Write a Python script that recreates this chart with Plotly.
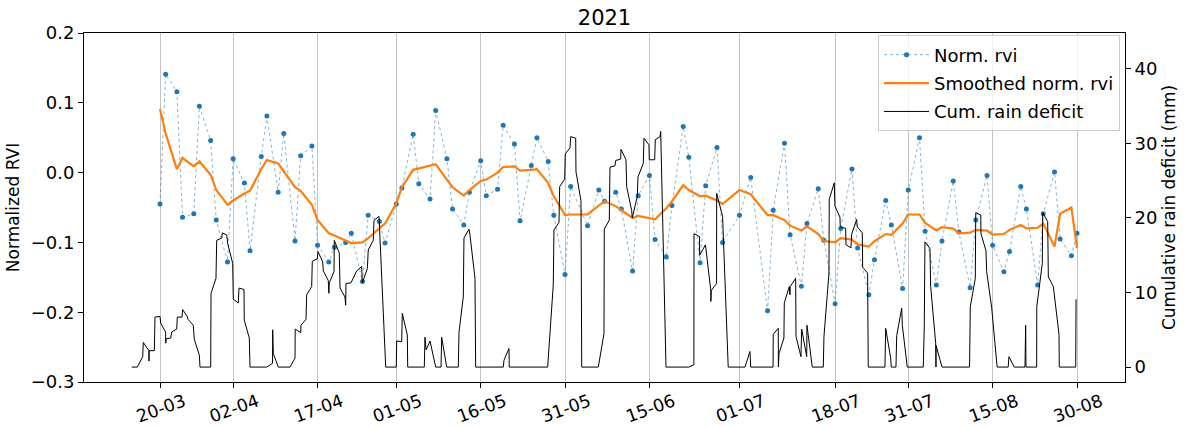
import pandas as pd
import plotly.graph_objects as go

START = pd.Timestamp("2021-03-20")

# Norm. rvi observations (days after 20-03-2021) and values
rvi_day = [0, 1, 3, 4, 6, 7, 9, 10, 12, 13, 15, 16, 18, 19, 21, 22, 24, 25, 27, 28,
           30, 31, 33, 34, 36, 37, 39, 40, 42, 43, 45, 46, 48, 49, 51, 52, 54, 55, 57, 58,
           60, 61, 63, 64, 66, 67, 69, 70, 72, 73, 76, 78, 79, 81, 82, 84, 85, 87, 88, 90,
           91, 93, 94, 96, 97, 99, 100, 103, 105, 108, 109, 111, 112, 114, 115, 117, 118, 120, 121, 123,
           124, 126, 127, 129, 130, 132, 133, 135, 136, 138, 139, 141, 142, 144, 145, 147, 148, 150, 151, 153,
           154, 156, 157, 159, 160, 162, 163]
rvi_val = [-0.045, 0.141, 0.116, -0.064, -0.059, 0.095, 0.046, -0.068, -0.128, 0.020,
           -0.015, -0.112, 0.023, 0.081, -0.028, 0.056, -0.098, 0.024, 0.038, -0.104,
           -0.128, -0.107, -0.100, -0.087, -0.156, -0.061, -0.070, -0.101, -0.045, -0.022,
           0.055, -0.016, -0.038, 0.089, 0.020, -0.052, -0.075, -0.028, 0.017, -0.033,
           -0.024, 0.068, 0.041, -0.069, 0.010, 0.050, 0.016, -0.061, -0.146, -0.020,
           -0.076, -0.025, -0.041, -0.028, -0.052, -0.141, -0.033, -0.004, -0.096, -0.121,
           -0.047, 0.066, 0.022, -0.129, -0.019, 0.036, -0.100, -0.061, -0.007, -0.198,
           -0.054, 0.042, -0.089, -0.163, -0.073, -0.023, -0.097, -0.188, -0.080, 0.005,
           -0.108, -0.175, -0.125, -0.040, -0.075, -0.166, -0.025, 0.050, -0.084, -0.161,
           -0.098, -0.012, -0.085, -0.165, -0.068, -0.004, -0.104, -0.142, -0.113, -0.020,
           -0.052, -0.161, -0.059, 0.001, -0.095, -0.119, -0.087]
smooth_val = [0.091, 0.056, 0.005, 0.021, 0.009, 0.016, -0.003, -0.025, -0.046, -0.040,
              -0.030, -0.026, 0.005, 0.018, 0.013, 0.002, -0.021, -0.026, -0.046, -0.068,
              -0.087, -0.090, -0.098, -0.101, -0.100, -0.094, -0.080, -0.073, -0.044, -0.021,
              0.004, 0.006, 0.009, 0.012, -0.010, -0.021, -0.033, -0.025, -0.012, -0.010,
              0.000, 0.008, 0.009, 0.003, 0.004, 0.005, -0.015, -0.034, -0.061, -0.060,
              -0.060, -0.048, -0.041, -0.048, -0.054, -0.065, -0.062, -0.065, -0.067, -0.051,
              -0.041, -0.018, -0.025, -0.034, -0.033, -0.040, -0.045, -0.025, -0.031, -0.061,
              -0.061, -0.068, -0.076, -0.083, -0.077, -0.088, -0.098, -0.100, -0.094, -0.096,
              -0.103, -0.106, -0.098, -0.088, -0.089, -0.073, -0.060, -0.060, -0.072, -0.083,
              -0.078, -0.080, -0.087, -0.086, -0.082, -0.083, -0.089, -0.088, -0.082, -0.075,
              -0.080, -0.079, -0.073, -0.106, -0.059, -0.050, -0.108]

# Cumulative rain deficit (days after 20-03-2021, mm)
rain_day = [-5.03, -4.03, -3.07, -2.97, -1.97, -1.96, -1.93, -1.01, -0.89, 0.0,
            0.12, 1.0, 1.01, 1.12, 1.90, 2.08, 2.97, 3.08, 3.91, 4.03,
            4.85, 4.98, 5.92, 6.10, 6.99, 7.11, 9.01, 9.07, 9.95, 10.08,
            10.97, 11.07, 11.86, 12.03, 12.92, 13.03, 13.92, 14.04, 14.93, 14.98,
            15.87, 16.0, 18.97, 20.0, 20.03, 20.14, 21.03, 23.1, 24.0, 24.03,
            25.01, 25.06, 25.95, 26.07, 26.96, 27.07, 27.96, 28.08, 28.92, 29.03,
            29.91, 30.02, 30.09, 30.93, 30.98, 31.87, 32.0, 32.88, 33.0, 33.06,
            33.95, 34.96, 35.85, 35.96, 36.85, 37.02, 37.91, 38.04, 38.93, 38.98,
            39.05, 39.99, 40.12, 42.0, 42.07, 42.96, 43.07, 43.96, 44.03, 46.98,
            47.1, 47.3, 48.0, 49.0, 49.95, 50.07, 50.96, 53.02, 53.15, 53.91,
            54.03, 54.92, 55.1, 55.99, 56.11, 61.02, 61.14, 62.03, 62.08, 68.91,
            69.9, 70.03, 70.92, 71.04, 71.93, 72.04, 72.88, 73.0, 73.89, 73.94,
            74.83, 74.96, 77.91, 78.92, 78.97, 79.86, 79.99, 80.87, 81.0, 81.89,
            81.94, 82.83, 82.95, 83.84, 83.95, 84.84, 84.96, 85.9, 86.03, 86.92,
            86.97, 87.93, 88.04, 88.87, 89.0, 89.94, 94.0, 94.9, 94.92, 95.9,
            95.92, 96.96, 97.9, 97.92, 98.0, 98.93, 98.95, 100.0, 101.0, 103.98,
            104.87, 105.0, 108.97, 109.0, 109.9, 109.92, 110.02, 110.9, 110.97, 111.86,
            111.98, 112.02, 112.99, 113.05, 113.93, 114.06, 114.95, 115.0, 115.94, 117.9,
            118.02, 118.91, 118.96, 119.85, 119.97, 120.86, 120.92, 121.88, 121.93, 122.82,
            122.94, 123.83, 123.94, 124.83, 124.9, 125.78, 125.89, 128.86, 128.99, 129.88,
            129.98, 130.82, 130.95, 131.84, 131.95, 132.83, 135.67, 135.85, 135.97, 136.86,
            136.99, 137.88, 137.93, 137.95, 139.0, 143.9, 144.03, 144.92, 145.0, 145.89,
            145.93, 146.82, 146.94, 147.83, 148.8, 150.77, 150.9, 151.84, 153.75, 153.87,
            153.93, 155.83, 155.85, 156.83, 156.9, 157.79, 157.9, 158.79, 159.8, 159.85,
            162.77, 162.83]
rain_mm = [0, 0, 1.4, 3.3, 2.2, 0.8, 2.2, 2.2, 6.7, 6.8,
           5.9, 4.7, 3.2, 3.8, 3.9, 4.7, 5.1, 6.7, 6.7, 7.7,
           6.8, 6.4, 5.6, 3.7, 1.6, 0, 0, 9.9, 11.9, 17.0,
           17.3, 18.0, 17.7, 16.6, 13.9, 9.1, 8.6, 10.6, 10.4, 6.3,
           3.9, 0, 0, 0.5, 5.0, 1.8, 0, 0, 1.2, 5.1,
           4.6, 5.6, 6.4, 9.7, 10.8, 14.2, 14.5, 15.5, 14.1, 12.9,
           11.6, 9.9, 11.3, 12.8, 17.0, 15.3, 10.6, 9.4, 8.3, 11.2,
           11.3, 12.9, 13.5, 11.3, 13.2, 15.7, 17.0, 19.7, 20.2, 19.3,
           20.2, 2.3, 0, 0, 3.5, 3.4, 7.2, 4.3, 0, 0,
           4.0, 2.3, 3.5, 0, 0, 4.0, 0, 0, 4.7, 9.4,
           17.3, 18.5, 17.7, 11.9, 0, 0, 0.9, 2.5, 0, 0,
           11.0, 18.4, 19.4, 24.2, 25.2, 28.6, 29.4, 30.9, 30.7, 26.2,
           22.3, 0, 0, 4.5, 18.5, 19.7, 26.8, 27.0, 27.7, 27.9,
           29.2, 27.8, 24.2, 21.0, 20.0, 22.9, 25.5, 27.3, 30.7, 29.8,
           27.8, 27.8, 30.5, 30.9, 31.6, 0, 0, 0.3, 17.9, 17.5,
           15.0, 16.4, 10.3, 8.8, 10.3, 11.2, 23.3, 20.2, 0, 0,
           2.1, 0, 0, 4.4, 5.2, 0, 1.8, 3.9, 8.6, 10.8,
           9.7, 10.8, 11.9, 4.1, 1.4, 5.1, 1.4, 5.6, 0, 0,
           4.1, 12.6, 22.5, 24.7, 21.6, 20.1, 18.8, 18.6, 16.4, 16.0,
           17.8, 19.8, 18.8, 18.0, 13.4, 12.6, 0, 0, 5.2, 1.2,
           0, 0, 4.2, 7.9, 5.6, 0, 0, 5.4, 16.8, 15.9,
           10.8, 3.2, 0, 2.9, 0, 0, 8.1, 11.9, 20.7, 20.4,
           17.9, 15.6, 12.8, 8.0, 0, 0, 1.4, 0, 0, 5.6,
           0, 0, 8.1, 13.9, 20.7, 19.5, 12.1, 10.8, 4.4, 0,
           0, 9.1]

tick_day = [0, 13, 28, 42, 57, 72, 87, 103, 120, 133, 148, 163]
tick_text = ["20-03", "02-04", "17-04", "01-05", "16-05", "31-05",
             "15-06", "01-07", "18-07", "31-07", "15-08", "30-08"]


def to_date(days):
    return START + pd.to_timedelta(pd.Series(days, dtype=float), unit="D")


rvi_x = to_date(rvi_day)
rain_x = to_date(rain_day)
tick_x = to_date(tick_day)

FONT = "DejaVu Sans"

fig = go.Figure()
fig.add_trace(go.Scatter(
    x=rvi_x, y=rvi_val, name="Norm. rvi", mode="lines+markers",
    line=dict(color="rgba(31,119,180,0.55)", width=1, dash="dot"),
    marker=dict(color="#1f77b4", size=5),
    legendgroup="a"))
fig.add_trace(go.Scatter(
    x=rvi_x, y=smooth_val, name="Smoothed norm. rvi", mode="lines",
    line=dict(color="#ff7f0e", width=2.2),
    legendgroup="b"))
fig.add_trace(go.Scatter(
    x=rain_x, y=rain_mm, name="Cum. rain deficit", mode="lines",
    line=dict(color="black", width=1),
    yaxis="y2", legendgroup="c"))

x0 = START + pd.Timedelta(days=-13.51)
x1 = START + pd.Timedelta(days=171.53)

fig.update_layout(
    width=1185, height=427,
    margin=dict(l=84, r=60, t=33, b=45, autoexpand=False),
    paper_bgcolor="white", plot_bgcolor="white",
    font=dict(family=FONT, size=18, color="black"),
    title=dict(text="2021", x=0.5, xref="paper", xanchor="center",
               y=1 - 18 / 427, yref="container", yanchor="middle",
               font=dict(size=21)),
    xaxis=dict(
        type="date", range=[x0, x1], automargin=False,
        tickmode="array", tickvals=tick_x, ticktext=tick_text,
        tickangle=-20, tickfont=dict(size=17.5), ticklabelshift=24,
        ticklabelstandoff=-3,
        showgrid=True, gridcolor="#c4c4c4", gridwidth=1,
        showline=True, linecolor="black", linewidth=1, mirror=True,
        ticks="outside", ticklen=5, tickwidth=1, tickcolor="black",
        zeroline=False),
    yaxis=dict(
        range=[-0.3, 0.2], tickmode="array", automargin=True,
        tickvals=[-0.3, -0.2, -0.1, 0.0, 0.1, 0.2], tickformat=".1f",
        tickfont=dict(size=18),
        title=dict(text="Normalized RVI", standoff=6, font=dict(size=17)),
        showgrid=False, zeroline=False,
        showline=True, linecolor="black", linewidth=1,
        ticks="outside", ticklen=5, tickwidth=1, tickcolor="black"),
    yaxis2=dict(
        overlaying="y", side="right", anchor="x", automargin=False,
        range=[-2.0, 44.8], tickmode="array", tickvals=[0, 10, 20, 30, 40],
        tickfont=dict(size=18),
        title=dict(text="Cumulative rain deficit (mm)", standoff=6, font=dict(size=17)),
        showgrid=False, zeroline=False,
        showline=True, linecolor="black", linewidth=1,
        ticks="outside", ticklen=5, tickwidth=1, tickcolor="black"),
    legend=dict(
        x=0.9952, xanchor="right", y=0.993, yanchor="top",
        bgcolor="rgba(255,255,255,0.8)", bordercolor="#cccccc", borderwidth=1,
        font=dict(size=18), tracegroupgap=2, itemwidth=45),
    showlegend=True,
)

fig.write_html("out.html")
